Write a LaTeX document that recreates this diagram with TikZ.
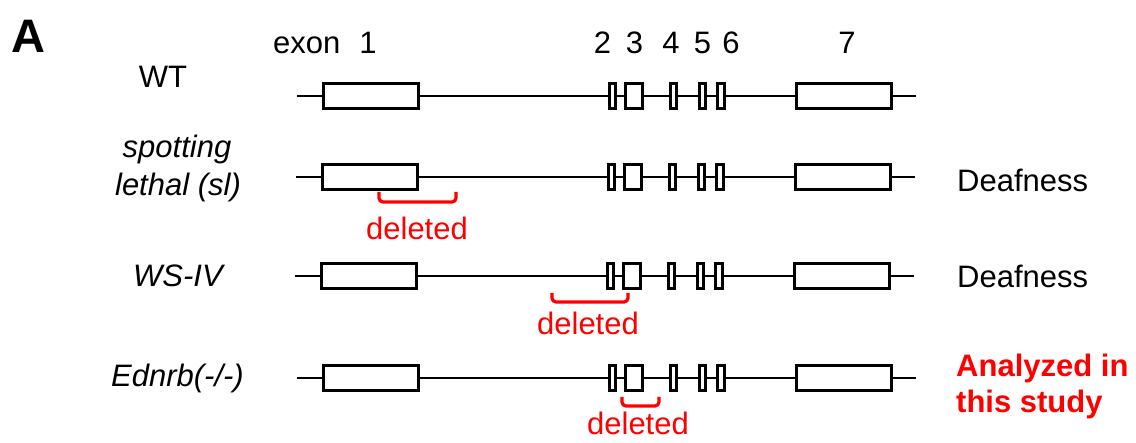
\documentclass[tikz,border=0pt]{standalone}
\usepackage{fontspec}
\setmainfont{Liberation Sans}
\newcommand\GeneRow[3]{%
  \coordinate (#1s) at (297+#3,#2);
  \coordinate (#1t) at (916+#3,#2);
  \node[exon,minimum width=95pt] (#1e1) at (371+#3,#2) {};
  \node[exon,minimum width=6.5pt]  (#1e2) at (612.5+#3,#2) {};
  \node[exon,minimum width=17.5pt] (#1e3) at (634+#3,#2) {};
  \node[exon,minimum width=6.5pt]  (#1e4) at (673.5+#3,#2) {};
  \node[exon,minimum width=6.5pt]  (#1e5) at (702.5+#3,#2) {};
  \node[exon,minimum width=7pt] (#1e6) at (721+#3,#2) {};
  \node[exon,minimum width=95pt] (#1e7) at (844+#3,#2) {};
  \draw[intron] (#1s) -- (#1e1) -- (#1e2) -- (#1e3) -- (#1e4) -- (#1e5) -- (#1e6) -- (#1e7) -- (#1t);
}
\begin{document}
\begin{tikzpicture}[x=1pt,y=-1pt,
  exon/.style={draw,line width=3pt,fill=white,inner sep=0pt,minimum height=25.5pt},
  intron/.style={line width=2.6pt},
  delbracket/.style={draw=red,line width=3.2pt,rounded corners=4pt},
  lbl/.style={font=\fontsize{31}{36}\selectfont,inner sep=0pt,anchor=base},
  ital/.style={lbl,font=\fontsize{31}{36}\selectfont\itshape},
  redlbl/.style={lbl,text=red},
  boldred/.style={inner sep=0pt,anchor=base west,text=red,font=\fontsize{31}{36}\selectfont\bfseries}]
\useasboundingbox (0,0) rectangle (1136,443);
% panel letter
\node[inner sep=0pt,anchor=base west,font=\fontsize{47}{47}\selectfont\bfseries] (panA) at (11,53) {A};
% exon labels
\node[lbl,anchor=base west] (exonlbl) at (273,54) {exon};
\node[lbl] (n1) at (368,54) {1};
\node[lbl] (n2) at (602.5,54) {2};
\node[lbl] (n3) at (634.5,54) {3};
\node[lbl] (n4) at (671,54) {4};
\node[lbl] (n5) at (702.5,54) {5};
\node[lbl] (n6) at (731,54) {6};
\node[lbl] (n7) at (847,54) {7};
% row labels
\node[lbl] (wt) at (163,88) {WT};
\node[ital] (sl1) at (177,158) {spotting};
\node[ital] (sl2) at (178,196) {lethal (sl)};
\node[ital] (ws) at (178,287) {WS-IV};
\node[ital] (ed) at (177.5,387) {Ednrb(-/-)};
% rows
\GeneRow{r1}{96}{0}
\GeneRow{r2}{177}{-1}
\GeneRow{r3}{276}{-2}
\GeneRow{r4}{378}{0}
% deletions
\draw[delbracket] (379,192) -- (379,202) -- (456,202) -- (456,192);
\node[redlbl] (d1) at (417,240) {deleted};
\draw[delbracket] (552,293) -- (552,302) -- (628,302) -- (628,293);
\node[redlbl] (d2) at (588,335) {deleted};
\draw[delbracket] (622,397) -- (622,406) -- (659,406) -- (659,397);
\node[redlbl] (d3) at (638,435) {deleted};
% phenotypes
\node[lbl,anchor=base west] (p1) at (957,192) {Deafness};
\node[lbl,anchor=base west] (p2) at (957,288) {Deafness};
\node[boldred] (p3) at (956,377) {Analyzed in};
\node[boldred] (p4) at (956,413) {this study};
\end{tikzpicture}
\end{document}
